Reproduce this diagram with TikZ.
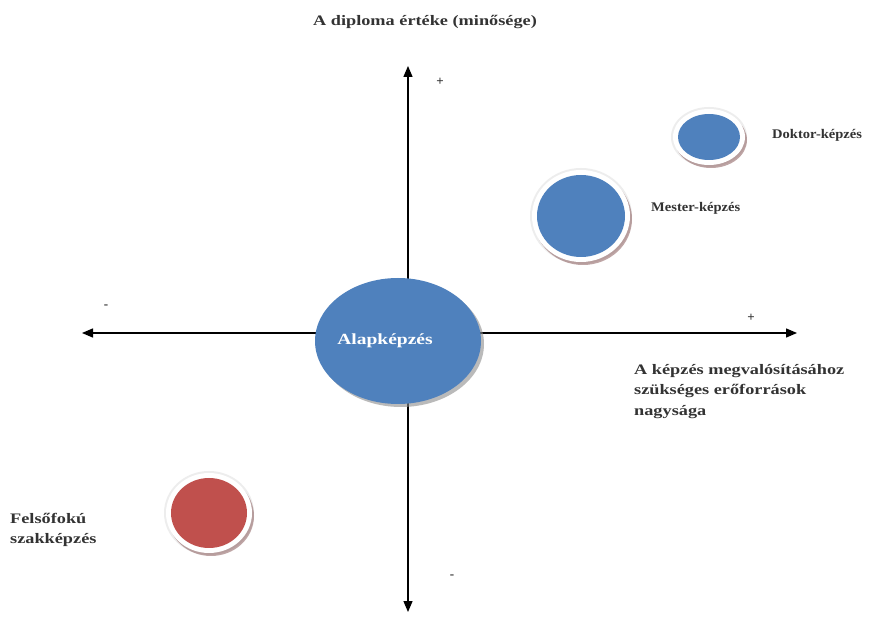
\documentclass[tikz,border=0pt]{standalone}
\usepackage{fontspec}
\setmainfont{Liberation Serif}
\newfontfamily\widefont[FakeStretch=1.26]{Liberation Serif}
\newfontfamily\midfont[FakeStretch=1.1]{Liberation Serif}
\usetikzlibrary{arrows.meta,shapes.geometric}
\definecolor{ballblue}{HTML}{4F81BD}
\definecolor{ballred}{HTML}{C0504D}
\definecolor{rimshade}{HTML}{8A5C5C}
\tikzset{
  axisline/.style={line width=1.3pt, {Triangle[length=11pt,width=9pt]}-{Triangle[length=11pt,width=9pt]}},
  lbl/.style={font=\midfont\fontsize{13.2}{16}\selectfont\bfseries, text=black!80, inner sep=0pt},
  widelbl/.style={font=\widefont\fontsize{14.5}{20.5}\selectfont\bfseries, text=black!80, inner sep=0pt},
  sign/.style={font=\fontsize{13}{13}\selectfont\bfseries, text=black!80, inner sep=0pt},
  ball/.style={ellipse, inner sep=0pt, fill=#1},
}
% a filled ball with a white rim, a faint halo and a drop shadow
\newcommand\rimball[6]{%
  \fill[black!7] (#2,#3) ellipse ({#4+7} and {#5+7});
  \fill[rimshade, opacity=.55] (#2+2,#3+3) ellipse ({#4+5} and {#5+5});
  \fill[white] (#2,#3) ellipse ({#4+5} and {#5+5});
  \node[ball=#6, minimum width={2*#4 pt}, minimum height={2*#5 pt}] (#1) at (#2,#3) {};
}
\begin{document}
\begin{tikzpicture}[x=1pt,y=-1pt]
\useasboundingbox[fill=white] (0,0) rectangle (887,617);

% axes
\coordinate (ytop) at (408,66);
\coordinate (ybot) at (408,612);
\coordinate (xleft) at (82,333);
\coordinate (xright) at (797,333);
\draw[axisline] (ybot) -- (ytop);
\draw[axisline] (xleft) -- (xright);

% central ellipse
\fill[black!45, opacity=.6] (401,344) ellipse (83 and 63);
\node[ball=ballblue, minimum width=166pt, minimum height=126pt] (alap) at (398,341) {};
\node[font=\widefont\fontsize{15.5}{17}\selectfont\bfseries, text=white, inner sep=0pt]
  (alaptext) at ([xshift=-13pt]alap.center) {Alapképzés};

% outer balls
\rimball{doktor}{709}{137}{31}{23}{ballblue}
\rimball{mester}{581}{216}{44}{41}{ballblue}
\rimball{felso}{209}{513}{38}{35}{ballred}

% labels
\node[widelbl] (ytitle) at (425,22) {A diploma értéke (minősége)};
\node[lbl, anchor=west] (doktorlbl) at (772,135) {Doktor-képzés};
\node[lbl, anchor=west] (mesterlbl) at (651,208) {Mester-képzés};
\node[widelbl, anchor=north west, align=left] (xtitle) at (634,364)
  {A képzés megvalósításához\\szükséges erőforrások\\nagysága};
\node[widelbl, anchor=west, align=left] (felsolbl) at (10,530)
  {Felsőfokú\\szakképzés};

% signs
\node[sign] (yplus) at (440,82) {+};
\node[sign] (xminus) at (106,307) {-};
\node[sign] (xplus) at (751,318) {+};
\node[sign] (yminus) at (452,577) {-};
\end{tikzpicture}
\end{document}
